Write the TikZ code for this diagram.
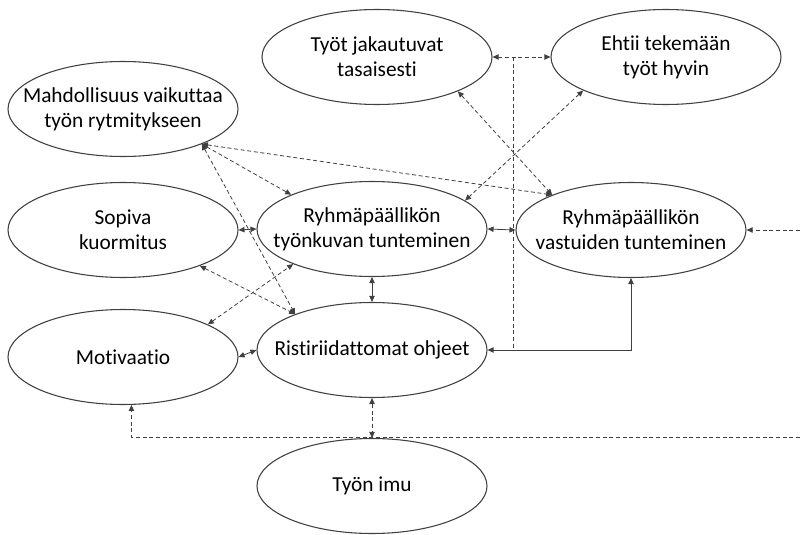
\documentclass[tikz,border=0pt]{standalone}
\usepackage{fontspec}
\setmainfont{Carlito}[Ligatures=NoCommon]
\usetikzlibrary{arrows.meta, shapes.geometric}
\definecolor{cLine}{HTML}{404040}

\tikzset{
  >={Triangle[length=4.5pt,width=4pt]},
  bubble/.style={ellipse, draw=cLine, line width=0.8pt,
    minimum width=172.5pt, minimum height=71.25pt, inner sep=0pt},
  btext/.style={font=\fontsize{16}{19}\selectfont, align=center, inner sep=0pt},
  link/.style={draw=cLine, line width=0.6pt},
  dlink/.style={link, dash pattern=on 3pt off 2pt},
}

\begin{document}
\begin{tikzpicture}[x=0.75pt, y=-0.75pt]
  \useasboundingbox (0,0) rectangle (800,535);
  % Factors
  \node[bubble, label={[btext]center:Työt jakautuvat\\tasaisesti}] (jak) at (377,57) {};
  \node[bubble, label={[btext]center:Ehtii tekemään\\työt hyvin}] (eht) at (666,57) {};
  \node[bubble, label={[btext]center:Mahdollisuus vaikuttaa\\työn rytmitykseen}] (mah) at (123,109) {};
  \node[bubble, label={[btext]center:Sopiva\\kuormitus}] (sop) at (123,230) {};
  \node[bubble, label={[btext]center:Ryhmäpäällikön\\työnkuvan tunteminen}] (tyo) at (372,229) {};
  \node[bubble, label={[btext]center:Ryhmäpäällikön\\vastuiden tunteminen}] (vas) at (631,230) {};
  \node[bubble, label={[btext]center:Motivaatio}] (mot) at (123,357) {};
  \node[bubble, label={[btext]center:Ristiriidattomat ohjeet}] (ris) at (372,350) {};
  \node[bubble, label={[btext]center:Työn imu}] (imu) at (372,486) {};
  % Free ends
  \coordinate (tap) at (513,57);
  \coordinate (inR) at (800,230);
  \coordinate (inB) at (800,437);
  % Dashed links
  \draw[dlink,<->] (jak.east) -- (eht.west);
  \draw[dlink] (tap) -- (tap |- ris.east);
  \draw[dlink,<->] (jak.-23) -- (vas.156);
  \draw[dlink,<->] (eht.202) -- (tyo.17);
  \draw[dlink,<->] (mah.-24) -- (vas.156);
  \draw[dlink,<->] (mah.-24) -- (tyo.157);
  \draw[dlink,<->] (mah.-24) -- (ris.155);
  \draw[dlink,<->] (sop.-25) -- (ris.155);
  \draw[dlink,<->] (mot.21) -- (tyo.204);
  \draw[dlink,<->] (ris.south) -- (imu.north);
  \draw[dlink,->] (inR) -- (vas.east);
  \draw[dlink,->] (inB) -| (mot.-80);
  % Solid links
  \draw[link,<->] (sop.east) -- (tyo.west);
  \draw[link,<->] (tyo.east) -- (vas.west);
  \draw[link,<->] (tyo.south) -- (ris.north);
  \draw[link,<->] (mot.east) -- (ris.west);
  \draw[link,<->] (vas.south) |- (ris.east);
\end{tikzpicture}
\end{document}
